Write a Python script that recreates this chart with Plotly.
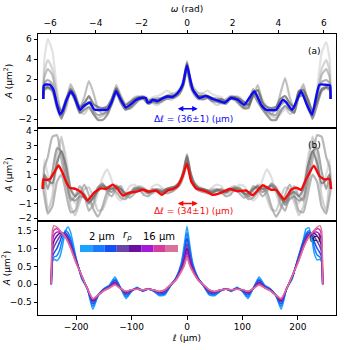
import plotly.graph_objects as go

# ---- panels (a) and (b): omega grid shared by the grey curves ----
OMEGA = [-6.3, -6.25, -6.1, -5.9, -5.7, -5.5, -5.3, -5.1, -4.9, -4.7, -4.5, -4.3, -4.1, -3.9, -3.7,
         -3.5, -3.3, -3.1, -2.9, -2.7, -2.5, -2.3, -2.1, -1.9, -1.7, -1.5, -1.3, -1.1, -0.9, -0.7,
         -0.5, -0.3, -0.15, 0.0, 0.15, 0.3, 0.5, 0.7, 0.9, 1.1, 1.3, 1.5, 1.7, 1.9, 2.1, 2.3, 2.5,
         2.7, 2.9, 3.1, 3.3, 3.5, 3.7, 3.9, 4.1, 4.3, 4.5, 4.7, 4.9, 5.1, 5.3, 5.5, 5.7, 5.9, 6.1,
         6.25, 6.3]

GRAY_A_COLORS = ["#d8d8d8", "#c4c4c4", "#a9a9a9", "#8e8e8e", "#747474", "#5e5e5e"]
GRAY_A = [
    [0, 4.0, 6.0, 4.8, 1.0, -1.6, -0.8, 0.6, 0.2, -0.8, -0.5, 0.1, -0.6, -1.2, -1.0, -0.7, 0.0, 0.9,
     0.2, -0.5, -0.2, 0.2, 0.3, 0.1, -0.2, 0.2, 0.3, 0.5, 0.85, 0.6, 0.4, 0.9, 1.6, 2.7,
     1.6, 0.9, 0.4, 0.6, 0.85, 0.5, 0.3, 0.2, -0.2, 0.1, 0.3, 0.2, -0.2, -0.5, 0.2, 0.9, 0.0, -0.7,
     -1.0, -1.2, -0.6, 0.1, -0.5, -0.8, 0.2, 0.6, -0.8, -1.6, 1.0, 4.6, 5.7, 4.0, 0],
    [0, 2.8, 3.9, 3.0, 0.5, -1.8, -1.0, 1.2, 0.6, -1.3, -1.5, -0.9, -1.5, -1.9, -1.7, -1.4, -0.6, 0.5,
     0.3, -0.6, -1.0, -0.6, 0.0, 0.3, 0.0, -0.4, -0.6, -0.3, 0.1, -0.1, 0.2, 0.7, 1.5, 3.0,
     1.5, 0.7, 0.2, -0.1, 0.1, -0.3, -0.6, -0.4, 0.0, 0.3, 0.0, -0.6, -1.0, -0.6, 0.3, 0.5, -0.6,
     -1.4, -1.7, -1.9, -1.5, -0.9, -1.5, -1.3, 0.6, 1.2, -1.0, -1.8, 0.5, 3.0, 3.9, 2.8, 0],
    [0, 2.2, 3.0, 2.4, 0.2, -1.3, -0.3, 1.5, 0.4, -0.9, 0.2, 1.8, 0.6, -1.0, -1.5, -1.3, -0.2, 1.4,
     0.3, -0.7, -0.4, 0.1, 0.2, 0.0, -0.4, 0.0, 0.1, 0.1, 0.3, 0.5, 0.6, 1.1, 2.0, 3.8,
     2.0, 1.1, 0.6, 0.5, 0.3, 0.1, 0.1, 0.0, -0.4, 0.0, 0.2, 0.1, -0.4, -0.7, 0.3, 1.4, -0.2, -1.3,
     -1.5, -1.0, 0.6, 2.1, 0.2, -0.9, 0.4, 1.5, -0.3, -1.3, 0.2, 2.4, 3.0, 2.2, 0],
    [0, 1.6, 1.9, 1.5, -0.5, -1.7, -0.6, 0.9, 0.0, -1.3, -0.8, -0.3, -1.2, -1.6, -1.5, -1.2, -0.4, 1.0,
     -0.2, -1.1, -0.8, -0.3, 0.1, 0.2, -0.4, -0.2, -0.3, 0.0, 0.3, 0.3, 0.4, 0.9, 1.7, 3.5,
     1.6, 0.8, 0.2, 0.3, 0.3, 0.0, -0.2, -0.3, -0.4, 0.2, 0.1, -0.3, -0.8, -0.4, 1.0, 0.1, -0.9,
     -1.2, -1.5, -1.6, -0.6, -0.3, -0.9, -1.3, 0.7, 0.6, -0.9, -1.7, 0.4, 1.7, 1.9, 1.6, 0],
    [0, 0.9, 1.1, 0.8, -0.9, -2.0, -0.3, 0.6, -0.2, -1.4, -1.1, -0.8, -1.5, -2.1, -2.1, -1.6, -0.5, 0.6,
     -0.4, -1.0, -0.9, -0.5, -0.1, 0.0, -0.5, -0.3, -0.4, -0.2, 0.0, 0.1, 0.2, 0.6, 1.4, 3.1,
     1.3, 0.5, 0.0, 0.0, 0.1, -0.2, -0.3, -0.4, -0.5, 0.0, -0.1, -0.5, -0.9, -0.9, 0.5, -0.3, -1.0,
     -1.6, -2.1, -2.1, -1.2, -0.7, -1.1, -1.4, 0.2, 0.4, -0.5, -2.0, -0.6, 0.8, 1.1, 0.9, 0],
    [0, 1.1, 1.2, 1.0, -0.4, -1.2, 0.0, 1.0, 0.3, -0.8, -0.4, 0.3, -0.5, -0.8, -0.9, -0.8, 0.0, 1.1,
     0.1, -0.6, -0.3, 0.0, 0.2, 0.2, -0.2, 0.0, -0.1, 0.1, 0.3, 0.3, 0.4, 0.9, 1.8, 3.6,
     1.7, 0.8, 0.3, 0.3, 0.3, 0.1, -0.1, 0.0, -0.2, 0.2, 0.2, 0.0, -0.3, -0.6, 0.4, 0.9, -0.3, -0.8,
     -0.9, -0.8, 0.0, 0.3, -0.4, -0.8, 0.8, 0.9, 0.0, -1.2, -0.2, 1.0, 1.2, 1.1, 0],
]

GRAY_B_COLORS = ["#d4d4d4", "#bebebe", "#9e9e9e", "#9a9a9a", "#868686", "#6c6c6c"]
GRAY_B = [
    [0, 2.0, 1.0, 0.2, 1.5, 3.4, 2.2, 0.0, -1.0, -0.8, -0.3, -0.9, -1.2, -0.3, 0.8, 1.35, 0.6, -0.5,
     -0.8, -0.3, 0.2, 0.3, 0.0, -0.3, -0.2, 0.2, 0.3, 0.1, -0.2, 0.0, 0.2, 0.5, 1.0, 2.0,
     1.0, 0.5, 0.2, 0.0, -0.2, 0.1, 0.3, 0.2, -0.2, -0.3, 0.0, 0.3, 0.2, -0.3, -0.8, -0.5, 0.6,
     1.35, 0.8, -0.3, -1.2, -0.9, -0.3, -0.8, -1.0, 0.0, 2.2, 3.4, 1.5, 0.2, 1.0, 2.0, 0],
    [0, 0.5, -1.5, -0.5, 2.5, 3.6, 1.5, -1.2, -1.8, -0.9, 0.0, 0.1, -0.6, -1.5, -1.4, -0.6, 0.2, 0.3,
     -0.2, -0.6, -0.4, 0.0, 0.2, 0.1, -0.2, -0.3, -0.1, 0.0, -0.1, -0.2, 0.0, 0.4, 1.1, 2.2,
     1.0, 0.3, 0.0, -0.2, -0.1, 0.0, -0.1, -0.3, -0.2, 0.1, 0.2, 0.0, -0.4, -0.6, -0.2, 0.3, 0.2,
     -0.6, -1.4, -1.5, -0.6, 0.1, 0.0, -0.9, -1.8, -1.2, 1.5, 3.6, 2.5, -0.5, -1.5, 0.5, 0],
    [0, 1.5, 2.2, 3.6, 3.7, 2.0, 0.3, -0.8, -0.5, 0.2, -0.4, -1.5, -1.0, 0.1, 0.4, -0.2, -0.5, 0.0,
     0.2, -0.4, -0.6, -0.3, 0.1, 0.0, -0.3, -0.2, 0.0, -0.3, 0.0, 0.1, 0.2, 0.6, 1.3, 2.4,
     1.2, 0.5, 0.1, 0.0, -0.2, -0.3, 0.0, -0.2, -0.3, 0.0, 0.1, -0.3, -0.6, -0.4, 0.2, 0.0, -0.5,
     -0.2, 0.4, 0.1, -1.0, -1.5, -0.4, 0.2, -0.5, -0.8, 0.3, 2.0, 3.7, 3.6, 2.2, 1.5, 0],
    [0, -0.5, -1.7, -1.2, 0.5, 1.0, -0.3, -1.6, -1.5, -0.4, 0.3, -0.4, -1.4, -1.9, -1.2, -0.2, 0.1, -0.2,
     -0.6, -0.7, -0.3, 0.1, 0.0, -0.4, -0.5, -0.2, 0.0, -0.1, -0.3, -0.2, 0.0, 0.3, 0.9, 1.8,
     0.8, 0.2, -0.1, -0.2, -0.3, -0.1, 0.0, -0.2, -0.5, -0.4, 0.0, 0.1, -0.3, -0.7, -0.6, -0.2, 0.1,
     -0.2, -1.2, -1.9, -1.4, -0.4, 0.3, -0.4, -1.5, -1.6, -0.3, 1.0, 0.5, -1.2, -1.7, -0.5, 0],
    [0, 0.8, 0.0, 1.2, 2.8, 2.6, 0.8, -0.6, -0.8, -0.5, -0.6, -1.0, -0.5, 0.1, 0.3, 0.0, -0.2, 0.1,
     0.0, -0.5, -0.3, 0.0, 0.1, -0.1, -0.3, 0.0, -0.1, -0.2, 0.0, 0.0, 0.1, 0.5, 1.1, 2.3,
     1.0, 0.4, 0.0, 0.0, -0.1, -0.3, -0.1, 0.0, -0.2, -0.1, 0.1, 0.0, -0.3, -0.5, 0.0, 0.1, -0.2,
     0.0, 0.3, 0.1, -0.5, -1.1, -0.7, -0.5, -0.8, -0.6, 0.8, 2.6, 2.8, 1.2, 0.0, 0.8, 0],
    [0, 1.0, 0.6, 0.4, 1.8, 2.6, 1.6, 0.0, -0.5, -0.2, -0.4, -0.9, -0.6, -0.1, 0.2, 0.1, 0.0, 0.2,
     0.0, -0.3, -0.3, -0.1, 0.0, 0.0, -0.2, -0.1, -0.1, -0.2, 0.0, 0.1, 0.2, 0.5, 1.2, 2.2,
     1.1, 0.4, 0.1, 0.0, -0.1, -0.2, -0.1, -0.1, -0.2, 0.0, 0.0, -0.1, -0.3, -0.3, 0.0, 0.2, 0.0,
     0.1, 0.2, -0.1, -0.6, -0.9, -0.4, -0.2, -0.5, 0.0, 1.6, 2.6, 1.8, 0.4, 0.6, 1.0, 0],
]

# mean curves
BLUE_W = [-6.30, -6.28, -6.2, -6.0, -5.85, -5.7, -5.57, -5.45, -5.3, -5.09, -4.95, -4.8, -4.69,
          -4.55, -4.43, -4.25, -4.07, -3.8, -3.6, -3.48, -3.3, -3.11, -2.9, -2.68, -2.45, -2.24,
          -2.0, -1.8, -1.73, -1.6, -1.51, -1.29, -1.07, -0.85, -0.63, -0.41, -0.19, 0.0, 0.25,
          0.54, 0.83, 1.13, 1.42, 1.64, 1.93, 2.22, 2.51, 2.95, 3.25, 3.46, 3.9, 4.2, 4.34, 4.61,
          5.0, 5.22, 5.48, 5.8, 6.17, 6.27, 6.29]
BLUE_A = [0.0, 1.3, 1.45, 1.42, 0.9, -0.6, -1.55, -1.2, -0.2, 0.75, 0.3, -0.6, -1.1, -0.75, -0.55,
          -0.35, -1.05, -1.1, -1.1, -1.05, -0.3, 0.8, -0.1, -0.85, -0.5, -0.1, 0.1, 0.1, -0.35,
          -0.3, -0.1, -0.2, 0.05, 0.25, 0.2, 0.6, 1.4, 3.35, 0.95, 0.1, 0.3, 0.0, -0.2, -0.37, 0.1,
          -0.07, -0.57, 0.77, -0.57, -1.07, -1.1, -0.07, -0.3, -1.1, 0.77, -0.4, -1.57, 1.43, 1.4,
          1.35, 0.0]

RED_W = [-6.33, -6.30, -6.15, -6.0, -5.8, -5.63, -5.45, -5.3, -5.16, -4.87, -4.65, -4.36, -4.07,
         -3.77, -3.55, -3.26, -3.04, -2.82, -2.53, -2.24, -1.94, -1.65, -1.36, -1.10, -0.85, -0.63,
         -0.41, -0.19, 0.0, 0.18, 0.39, 0.83, 1.13, 1.42, 1.86, 2.22, 2.59, 2.88, 3.32, 3.68, 3.90,
         4.27, 4.56, 4.78, 5.0, 5.22, 5.56, 5.80, 6.02, 6.24, 6.32]
RED_A = [0.0, 0.66, 0.62, 0.7, 1.2, 1.63, 1.1, 0.5, 0.1, 0.0, -0.2, -0.78, -0.25, 0.05, 0.0, 0.3,
         0.0, -0.45, -0.25, -0.2, -0.05, -0.18, -0.1, -0.4, -0.1, 0.0, 0.2, 0.9, 1.76, 0.54, 0.06,
         -0.16, -0.4, -0.3, 0.0, -0.15, -0.1, -0.43, 0.26, -0.05, -0.05, -0.73, -0.05, 0.1, -0.05,
         0.67, 1.6, 0.9, 0.66, 0.7, 0.0]

# ---- panel (c): curves for r_p = 2 ... 16 um ----
ELL = [-245, -243, -240, -235, -230, -225, -220, -215, -210, -200, -190, -180, -170, -160, -150,
       -140, -130, -120, -110, -100, -90, -80, -70, -60, -50, -40, -30, -20, -10, -5, 0,
       5, 10, 20, 30, 40, 50, 60, 70, 80, 90, 100, 110, 120, 130, 140, 150, 160, 170, 180, 190,
       200, 210, 215, 220, 225, 230, 235, 240, 243, 245]
RP = [2, 4, 6, 8, 10, 12, 14, 16]
RP_COLORS = ["#18a4ff", "#1a7cff", "#1450f5", "#6a45a8", "#6a0fa0", "#a518d8", "#d43c9e", "#d8729a"]
CURVES_C = [
    [0, 0.62, 0.70, 0.66, 0.75, 1.05, 1.45, 1.60, 1.45, 0.72, 0.15, -0.12, -0.70, -0.30, -0.12,
     -0.02, 0.20, -0.10, -0.40, -0.20, -0.08, -0.20, -0.12, -0.20, -0.32, -0.30, -0.05, 0.18, 0.62,
     1.10, 1.62, 1.10, 0.62, 0.18, -0.05, -0.30, -0.32, -0.20, -0.12, -0.20, -0.08, -0.20, -0.40,
     -0.10, 0.20, -0.02, -0.12, -0.30, -0.70, -0.12, 0.15, 0.72, 1.25, 1.55, 1.58, 1.30, 0.85,
     0.68, 0.70, 0.62, 0],
    [0, 0.66, 0.76, 0.80, 0.95, 1.25, 1.50, 1.45, 1.28, 0.70, 0.18, -0.12, -0.62, -0.30, -0.13,
     -0.04, 0.15, -0.10, -0.35, -0.19, -0.10, -0.19, -0.13, -0.19, -0.29, -0.27, -0.05, 0.17, 0.57,
     0.98, 1.45, 0.98, 0.57, 0.17, -0.05, -0.27, -0.29, -0.19, -0.13, -0.19, -0.10, -0.19, -0.35,
     -0.10, 0.15, -0.04, -0.13, -0.30, -0.62, -0.12, 0.18, 0.70, 1.20, 1.42, 1.50, 1.38, 1.02, 0.82,
     0.76, 0.66, 0],
    [0, 0.76, 0.88, 1.00, 1.18, 1.38, 1.45, 1.36, 1.18, 0.68, 0.20, -0.12, -0.55, -0.30, -0.14,
     -0.06, 0.11, -0.10, -0.30, -0.18, -0.11, -0.18, -0.13, -0.18, -0.26, -0.24, -0.04, 0.16, 0.52,
     0.86, 1.30, 0.86, 0.52, 0.16, -0.04, -0.24, -0.26, -0.18, -0.13, -0.18, -0.11, -0.18, -0.30,
     -0.10, 0.11, -0.06, -0.14, -0.30, -0.55, -0.12, 0.20, 0.68, 1.18, 1.36, 1.45, 1.38, 1.18, 1.00,
     0.88, 0.76, 0],
    [0, 0.88, 1.05, 1.20, 1.33, 1.42, 1.40, 1.30, 1.12, 0.66, 0.21, -0.12, -0.50, -0.30, -0.15,
     -0.07, 0.07, -0.11, -0.26, -0.17, -0.12, -0.17, -0.13, -0.17, -0.24, -0.21, -0.03, 0.15, 0.48,
     0.76, 1.15, 0.76, 0.48, 0.15, -0.03, -0.21, -0.24, -0.17, -0.13, -0.17, -0.12, -0.17, -0.26,
     -0.11, 0.07, -0.07, -0.15, -0.30, -0.50, -0.12, 0.21, 0.66, 1.12, 1.30, 1.40, 1.42, 1.33, 1.20,
     1.05, 0.88, 0],
    [0, 1.02, 1.22, 1.35, 1.42, 1.43, 1.38, 1.26, 1.08, 0.64, 0.22, -0.12, -0.46, -0.30, -0.16,
     -0.08, 0.04, -0.11, -0.23, -0.16, -0.13, -0.16, -0.14, -0.16, -0.22, -0.18, -0.03, 0.14, 0.44,
     0.67, 1.02, 0.67, 0.44, 0.14, -0.03, -0.18, -0.22, -0.16, -0.14, -0.16, -0.13, -0.16, -0.23,
     -0.11, 0.04, -0.08, -0.16, -0.30, -0.46, -0.12, 0.22, 0.64, 1.08, 1.26, 1.38, 1.43, 1.42, 1.35,
     1.22, 1.02, 0],
    [0, 1.18, 1.38, 1.46, 1.46, 1.43, 1.36, 1.23, 1.05, 0.62, 0.23, -0.12, -0.43, -0.30, -0.17,
     -0.09, 0.02, -0.12, -0.21, -0.15, -0.14, -0.15, -0.14, -0.16, -0.21, -0.17, -0.02, 0.13, 0.41,
     0.60, 0.92, 0.60, 0.41, 0.13, -0.02, -0.17, -0.21, -0.16, -0.14, -0.15, -0.14, -0.15, -0.21,
     -0.12, 0.02, -0.09, -0.17, -0.30, -0.43, -0.12, 0.23, 0.62, 1.05, 1.23, 1.36, 1.43, 1.46, 1.46,
     1.38, 1.18, 0],
    [0, 1.34, 1.52, 1.55, 1.50, 1.43, 1.34, 1.20, 1.02, 0.60, 0.24, -0.12, -0.41, -0.30, -0.18,
     -0.10, 0.00, -0.12, -0.20, -0.15, -0.14, -0.15, -0.14, -0.16, -0.20, -0.16, -0.02, 0.12, 0.38,
     0.55, 0.82, 0.55, 0.38, 0.12, -0.02, -0.16, -0.20, -0.16, -0.14, -0.15, -0.14, -0.15, -0.20,
     -0.12, 0.00, -0.10, -0.18, -0.30, -0.41, -0.12, 0.24, 0.60, 1.02, 1.20, 1.34, 1.43, 1.50, 1.55,
     1.52, 1.34, 0],
    [0, 1.50, 1.64, 1.60, 1.52, 1.42, 1.32, 1.18, 1.00, 0.58, 0.24, -0.12, -0.40, -0.30, -0.18,
     -0.10, -0.02, -0.12, -0.19, -0.15, -0.14, -0.15, -0.14, -0.16, -0.20, -0.15, -0.02, 0.12, 0.36,
     0.52, 0.75, 0.52, 0.36, 0.12, -0.02, -0.15, -0.20, -0.16, -0.14, -0.15, -0.14, -0.15, -0.19,
     -0.12, -0.02, -0.10, -0.18, -0.30, -0.40, -0.12, 0.24, 0.58, 1.00, 1.18, 1.32, 1.42, 1.52, 1.60,
     1.64, 1.50, 0],
]

FONT = dict(family="DejaVu Sans", size=9, color="black")

fig = go.Figure()

for ys, col in zip(GRAY_A, GRAY_A_COLORS):
    fig.add_trace(go.Scatter(x=OMEGA, y=ys, mode="lines", xaxis="x", yaxis="y", opacity=0.72,
                             line=dict(color=col, width=2.2, shape="spline", smoothing=0.5)))
fig.add_trace(go.Scatter(x=BLUE_W, y=BLUE_A, mode="lines", xaxis="x", yaxis="y",
                         line=dict(color="#0a0af5", width=2.4, shape="spline", smoothing=0.4)))

for ys, col in zip(GRAY_B, GRAY_B_COLORS):
    fig.add_trace(go.Scatter(x=OMEGA, y=ys, mode="lines", xaxis="x2", yaxis="y2", opacity=0.72,
                             line=dict(color=col, width=2.2, shape="spline", smoothing=0.5)))
fig.add_trace(go.Scatter(x=RED_W, y=RED_A, mode="lines", xaxis="x2", yaxis="y2",
                         line=dict(color="#f50a0a", width=2.4, shape="spline", smoothing=0.4)))

for ys, col in zip(CURVES_C, RP_COLORS):
    fig.add_trace(go.Scatter(x=ELL, y=ys, mode="lines", xaxis="x3", yaxis="y3",
                             line=dict(color=col, width=1.5, shape="spline", smoothing=0.5)))

frame = dict(showline=True, mirror=True, linecolor="black", linewidth=1, showgrid=False,
             zeroline=False, ticks="outside", ticklen=3.5, tickwidth=0.8, tickcolor="black",
             tickfont=FONT, automargin=False)
ytitle = dict(text="<i>A</i> (μm<sup>2</sup>)", font=FONT, standoff=4)

fig.update_layout(
    width=350, height=350,
    margin=dict(l=38, r=14, t=34, b=35, autoexpand=False),
    paper_bgcolor="white", plot_bgcolor="white",
    showlegend=False,
    font=FONT,
    xaxis=dict(frame, anchor="y", side="top", range=[-6.53, 6.53],
               tickvals=[-6, -4, -2, 0, 2, 4, 6],
               title=dict(text="<i>ω</i> (rad)", font=FONT, standoff=3)),
    xaxis2=dict(frame, anchor="y2", matches="x", showticklabels=False, ticks=""),
    xaxis3=dict(frame, anchor="y3", range=[-269, 269], tickvals=[-200, -100, 0, 100, 200],
                title=dict(text="<i>ℓ</i> (μm)", font=FONT, standoff=3)),
    yaxis=dict(frame, domain=[0.6655, 1], range=[-2.9, 6.5], tickvals=[-2, 0, 2, 4, 6],
               title=ytitle),
    yaxis2=dict(frame, domain=[0.3345, 0.6655], range=[-2.2, 4.2],
                tickvals=[-2, -1, 0, 1, 2, 3, 4], title=ytitle),
    yaxis3=dict(frame, domain=[0, 0.3345], range=[-0.86, 1.77],
                tickvals=[-0.5, 0, 0.5, 1, 1.5], tickformat=".1f", title=ytitle),
)

# panel tags
for tag, ax in (("(a)", ""), ("(b)", "2"), ("(c)", "3")):
    fig.add_annotation(text=tag, xref=f"x{ax} domain", yref=f"y{ax} domain", x=0.955, y=0.89,
                       showarrow=False, font=FONT)

# delta-ell markers
for ax, col, txt, ya, yt in (("", "#0a0af5", "Δ<i>ℓ</i> = (36±1) (μm)", -0.97, -2.0),
                             ("2", "#f50a0a", "Δ<i>ℓ</i> = (34±1) (μm)", -1.0, -1.52)):
    fig.add_annotation(x=0.47, y=ya, ax=-0.47, ay=ya, xref=f"x{ax}", yref=f"y{ax}",
                       axref=f"x{ax}", ayref=f"y{ax}", text="", showarrow=True,
                       arrowhead=2, startarrowhead=2, arrowside="end+start",
                       arrowsize=0.8, startarrowsize=0.8, arrowwidth=1.4, arrowcolor=col)
    fig.add_annotation(x=0.28, y=yt, xref=f"x{ax}", yref=f"y{ax}", text=txt, showarrow=False,
                       font=dict(FONT, color=col))

# r_p colour key in panel (c)
x_start, seg_w = 0.141, 0.0411
for i, col in enumerate(RP_COLORS):
    fig.add_shape(type="rect", xref="x3 domain", yref="y3 domain",
                  x0=x_start + i * seg_w, x1=x_start + (i + 1) * seg_w, y0=0.67, y1=0.745,
                  fillcolor=col, line=dict(width=0))
for txt, xk in ((f"{RP[0]} μm", 0.165), ("<i>r<sub>p</sub></i>", 0.28), (f"{RP[-1]} μm", 0.405)):
    fig.add_annotation(text=txt, xref="x3 domain", yref="y3 domain", x=xk, y=0.76,
                       yanchor="bottom", showarrow=False, font=dict(FONT, size=10))

# drop the default 8px page margin so the 350x350 figure fills the window
fig.write_html("out.html", config={"displayModeBar": False},
               post_script="document.body.style.margin='0';")
